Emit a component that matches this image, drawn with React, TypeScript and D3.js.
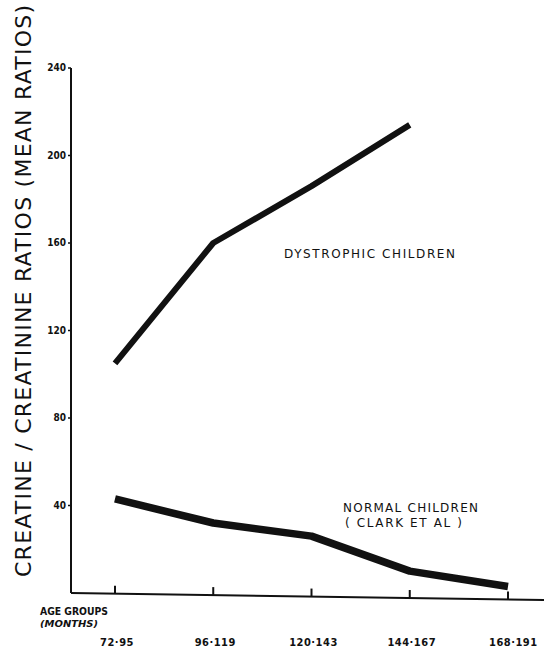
import * as d3 from "d3";
import { useEffect, useRef } from "react";

const ageGroups = ["72-95", "96-119", "120-143", "144-167", "168-191"];
const yTicks = [40, 80, 120, 160, 200, 240];
const dystrophic = [105, 160, 186, 214];
const normal = [43, 32, 26, 10, 3];

const W = 544;
const H = 650;

const App = () => {
  const ref = useRef<SVGSVGElement>(null);

  useEffect(() => {
    const svg = d3.select(ref.current);
    svg.selectAll("*").remove();

    const left = 71;
    const bottom = 593;
    const scaleX = d3.scalePoint<string>().domain(ageGroups).range([115, 508]);
    const scaleY = d3.scaleLinear().domain([0, 240]).range([bottom, 68]);
    const font = "'DejaVu Sans Condensed', 'DejaVu Sans', sans-serif";

    // axes
    svg.append("line")
      .attr("x1", left).attr("x2", left)
      .attr("y1", scaleY(240)).attr("y2", bottom)
      .attr("stroke", "#111").attr("stroke-width", 2);
    svg.append("line")
      .attr("x1", left).attr("x2", W)
      .attr("y1", bottom).attr("y2", bottom + 7)
      .attr("stroke", "#111").attr("stroke-width", 2);

    const xTick = svg.append("g");
    ageGroups.forEach((g, i) => {
      const x = scaleX(g)!;
      const yb = bottom + ((x - left) / (W - left)) * 7;
      xTick.append("line")
        .attr("x1", x).attr("x2", x)
        .attr("y1", yb).attr("y2", yb - 8)
        .attr("stroke", "#111").attr("stroke-width", 2);
      const last = i === ageGroups.length - 1;
      xTick.append("text")
        .attr("x", last ? 489 : x + 2).attr("y", 646)
        .attr("text-anchor", last ? "start" : "middle")
        .style("font-family", font).style("font-size", "11px").style("font-weight", "bold")
        .style("letter-spacing", "0.5px")
        .attr("fill", "#111")
        .text(g.replace("-", "·"));
    });

    yTicks.forEach((t) => {
      svg.append("line")
        .attr("x1", left - 3).attr("x2", left)
        .attr("y1", scaleY(t)).attr("y2", scaleY(t))
        .attr("stroke", "#111").attr("stroke-width", 1.5);
      svg.append("text")
        .attr("x", left - 5).attr("y", scaleY(t) + 3)
        .attr("text-anchor", "end")
        .style("font-family", font).style("font-size", "10px").style("font-weight", "bold")
        .attr("fill", "#111")
        .text(String(t));
    });

    svg.append("text")
      .attr("x", 40).attr("y", 615)
      .attr("textLength", 68).attr("lengthAdjust", "spacingAndGlyphs")
      .style("font-family", font).style("font-size", "10px").style("font-weight", "bold")
      .attr("fill", "#111")
      .text("AGE GROUPS");
    svg.append("text")
      .attr("x", 40).attr("y", 627)
      .attr("textLength", 58).attr("lengthAdjust", "spacingAndGlyphs")
      .style("font-family", font).style("font-size", "8px").style("font-weight", "bold")
      .style("font-style", "italic")
      .attr("fill", "#111")
      .text("(MONTHS)");

    svg.append("text")
      .attr("transform", `translate(31, 291) rotate(-90)`)
      .attr("text-anchor", "middle")
      .attr("textLength", 572).attr("lengthAdjust", "spacing")
      .style("font-family", "'DejaVu Sans', sans-serif").style("font-size", "22px")
      .attr("fill", "#111")
      .text("CREATINE  / CREATININE  RATIOS  (MEAN RATIOS)");

    const line = d3.line<number>()
      .x((_, i) => scaleX(ageGroups[i])!)
      .y((d) => scaleY(d));

    svg.append("path")
      .attr("d", line(dystrophic))
      .attr("fill", "none").attr("stroke", "#111")
      .attr("stroke-width", 6).attr("stroke-linejoin", "round");
    svg.append("path")
      .attr("d", line(normal))
      .attr("fill", "none").attr("stroke", "#111")
      .attr("stroke-width", 7.5).attr("stroke-linejoin", "round");

    const label = (x: number, y: number, len: number, s: string) =>
      svg.append("text")
        .attr("x", x).attr("y", y)
        .attr("textLength", len).attr("lengthAdjust", "spacing")
        .style("font-family", "'DejaVu Sans', sans-serif").style("font-size", "12px")
        .attr("fill", "#111")
        .text(s);
    label(284, 258, 171, "DYSTROPHIC  CHILDREN");
    label(343, 512, 135, "NORMAL CHILDREN");
    label(345, 527, 117, "( CLARK  ET AL )");
  }, []);

  return (
    <svg ref={ref} width={W} height={H}
      style={{ position: "absolute", left: 0, top: 0, background: "#fff" }} />
  );
};

export default App;
